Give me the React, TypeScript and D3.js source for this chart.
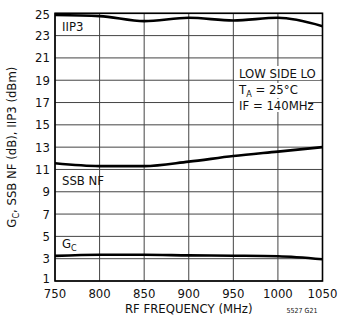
import React from "react";
import * as d3 from "d3";

const freqs = [750, 800, 850, 900, 950, 1000, 1050];
const iip3 = [24.85, 24.75, 24.3, 24.6, 24.35, 24.6, 23.85];
const ssbNF = [11.55, 11.3, 11.3, 11.7, 12.2, 12.6, 13.0];
const gc = [3.25, 3.35, 3.35, 3.3, 3.27, 3.22, 2.95];
const xTicks = [750, 800, 850, 900, 950, 1000, 1050];
const yTicks = [1, 3, 5, 7, 9, 11, 13, 15, 17, 19, 21, 23, 25];

const FONT = "'Liberation Sans Narrow', 'Arial Narrow', 'DejaVu Sans Condensed', sans-serif";

export default function App() {
  const W = 339, H = 320;
  const L = 55, R = 322.5, T = 13.3, B = 281;
  const x = d3.scaleLinear().domain([750, 1050]).range([L, R]);
  const y = d3.scaleLinear().domain([1, 25]).range([B, T]);
  const line = d3
    .line<number>()
    .x((_, i) => x(freqs[i]))
    .y((d) => y(d))
    .curve(d3.curveMonotoneX);
  const series = [iip3, ssbNF, gc];
  return (
    <svg width={W} height={H} style={{ position: "absolute", left: 0, top: 0, background: "#fff" }} fontFamily={FONT}>
      <rect x={0} y={0} width={W} height={H} fill="#fff" />
      {xTicks.map((t) => (
        <line key={"gx" + t} x1={x(t)} x2={x(t)} y1={T} y2={B} stroke="#444" strokeWidth={1} />
      ))}
      {yTicks.map((t) => (
        <line key={"gy" + t} x1={L} x2={R} y1={y(t)} y2={y(t)} stroke="#444" strokeWidth={1} />
      ))}
      {/* annotation knockouts */}
      <rect x={234} y={66} width={86} height={14} fill="#fff" />
      <rect x={234} y={83} width={62} height={15} fill="#fff" />
      <rect x={234} y={99} width={74} height={13} fill="#fff" />
      {series.map((s, i) => (
        <path key={i} d={line(s) || ""} fill="none" stroke="#000" strokeWidth={2.6} />
      ))}
      <rect x={L} y={T} width={R - L} height={B - T} fill="none" stroke="#000" strokeWidth={1.6} />
      {yTicks.map((t) => (
        <text key={"ty" + t} x={50} y={y(t) + (t === 1 ? 2 : t === 25 ? 5.5 : 4.5)} textAnchor="end" fontSize={13} fill="#111">
          {t}
        </text>
      ))}
      {xTicks.map((t) => (
        <text key={"tx" + t} x={x(t)} y={298} textAnchor="middle" fontSize={13} fill="#111">
          {t}
        </text>
      ))}
      <text x={(L + R) / 2} y={313} textAnchor="middle" fontSize={13} fill="#111">
        RF FREQUENCY (MHz)
      </text>
      <text x={302} y={313} textAnchor="middle" fontSize={7} fill="#111">
        5527 G21
      </text>
      <text transform={`translate(16,${(T + B) / 2}) rotate(-90)`} textAnchor="middle" fontSize={13} fill="#111">
        G<tspan fontSize={9} dy={3}>C</tspan>
        <tspan dy={-3}>, SSB NF (dB), IIP3 (dBm)</tspan>
      </text>
      <text x={62} y={31} fontSize={13} fill="#111">IIP3</text>
      <text x={62} y={185} fontSize={13} fill="#111">SSB NF</text>
      <text x={62} y={248} fontSize={13} fill="#111">
        G<tspan fontSize={9} dy={3}>C</tspan>
      </text>
      <text x={239} y={78} fontSize={13} fill="#111">LOW SIDE LO</text>
      <text x={239} y={94} fontSize={13} fill="#111">
        T<tspan fontSize={9} dy={3}>A</tspan>
        <tspan dy={-3}> = 25°C</tspan>
      </text>
      <text x={239} y={110} fontSize={13} fill="#111">IF = 140MHz</text>
    </svg>
  );
}
